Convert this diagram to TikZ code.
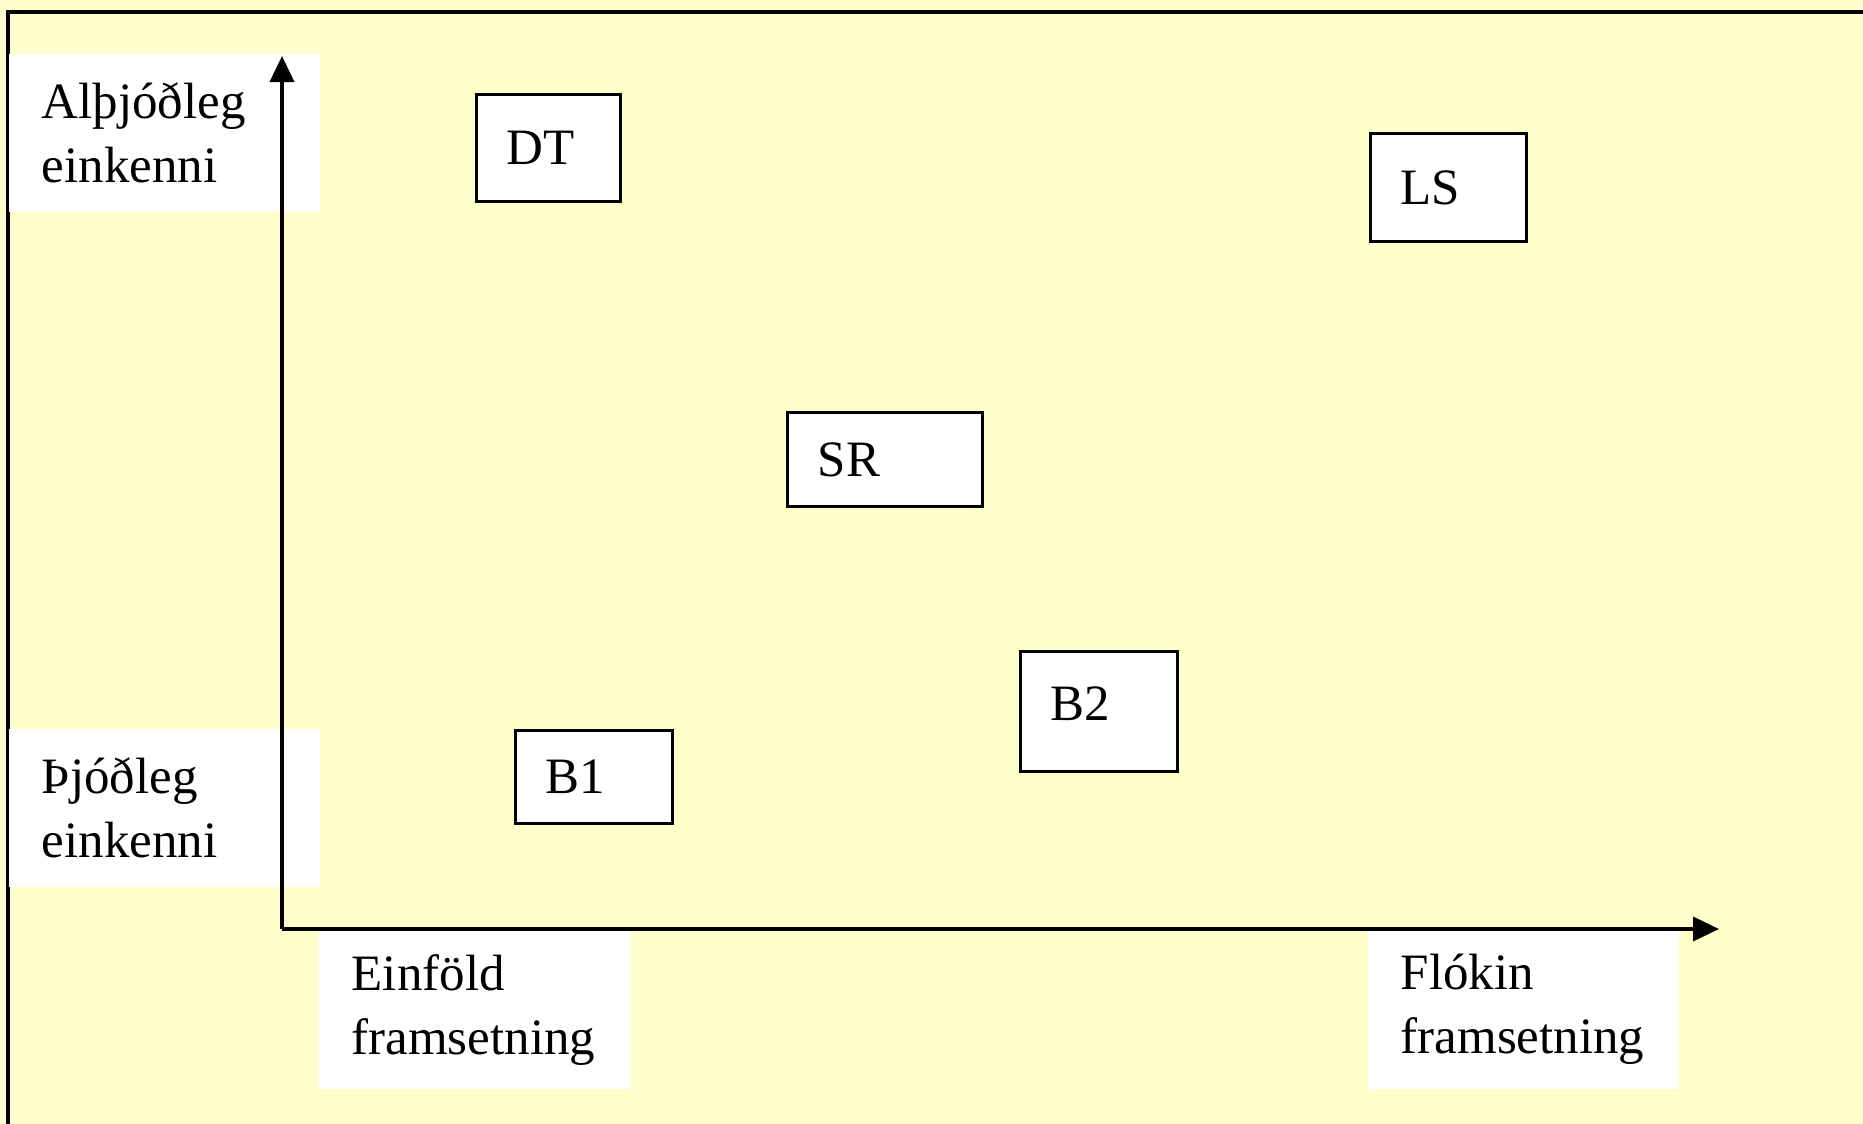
\documentclass[tikz,border=0pt]{standalone}
\usepackage{fontspec}
\setmainfont{Liberation Serif}
\definecolor{paperyellow}{RGB}{255,255,204}
\usetikzlibrary{arrows.meta}
\tikzset{
  axislabel/.style={fill=white, anchor=north west, align=left, inner xsep=0.33cm, inner ysep=0pt, text width=2.45cm, minimum height=1.58cm},
  tag/.style 2 args={draw, fill=white, line width=0.95pt, anchor=north west, align=left, inner xsep=0.3cm, inner ysep=0pt, text width=#1, minimum height=#2},
  axis/.style={line width=1.1pt, -{Triangle[length=0.26cm, width=0.24cm]}}
}

\begin{document}
\begin{tikzpicture}[x=0.01cm, y=-0.01cm, font=\fontsize{14.5pt}{18.2pt}\selectfont]
  \fill [paperyellow] (0,0) rectangle (1863,1124);
  \useasboundingbox (0,0) rectangle (1863,1124);
  \draw [line width=1.1pt] (8,1124) -- (8,12) -- (1863,12);

  % labels on the axes
  \node [axislabel] (alth) at (8,53) {Alþjóðleg\\einkenni};
  \node [axislabel] (thjod) at (8,728) {Þjóðleg\\einkenni};
  \node [axislabel] (einfold) at (318,930) {Einföld\\framsetning};
  \node [axislabel] (flokin) at (1367,930) {Flókin\\framsetning};

  \coordinate (origin) at (282,929);
  \coordinate (ytop) at (282,56);
  \coordinate (xend) at (1719,929);
  \draw [axis] (origin) -- (ytop);
  \draw [axis] (origin) -- (xend);

  % the boxes
  \node [tag={0.84cm}{1.07cm}] (dt) at (475,93) {DT};
  \node [tag={0.96cm}{1.08cm}] (ls) at (1369,132) {LS};
  \node [tag={1.35cm}{0.94cm}] (sr) at (786,411) {SR};
  \node [tag={0.97cm}{1.20cm}, text depth=0.16cm] (btwo) at (1019,650) {B2};
  \node [tag={0.97cm}{0.93cm}] (bone) at (514,729) {B1};
\end{tikzpicture}
\end{document}
